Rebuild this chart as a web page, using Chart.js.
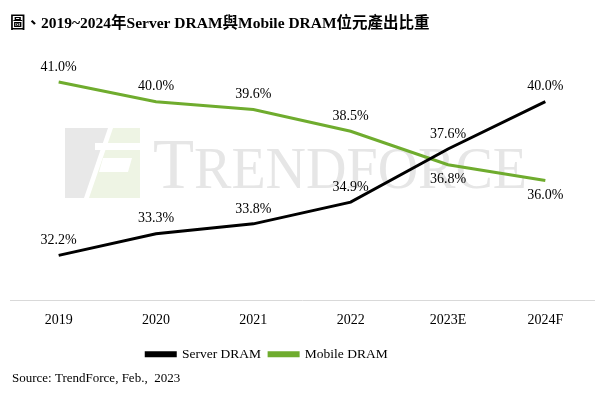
<!DOCTYPE html>
<html>
<head>
<meta charset="utf-8">
<script src="https://cdn.jsdelivr.net/npm/chart.js@4"></script>
<style>
  html, body { margin: 0; padding: 0; background: #fff; }
  #wrap { width: 600px; height: 399px; }
</style>
</head>
<body>
<div id="wrap"><canvas id="lineChart" width="600" height="399"></canvas></div>
<script>
var years = ["2019", "2020", "2021", "2022", "2023E", "2024F"];
var serverDram = [32.2, 33.3, 33.8, 34.9, 37.6, 40.0];
var mobileDram = [41.0, 40.0, 39.6, 38.5, 36.8, 36.0];
// which labels sit under the point instead of above it
var mobileBelow = [false, false, false, false, true, true];
var serverBelow = [false, false, false, false, false, false];

var serif = "'Liberation Serif', 'Times New Roman', 'Noto Sans CJK TC', serif";

// faint TrendForce mark behind the lines
var watermark = {
  id: 'watermark',
  beforeDatasetsDraw: function (chart) {
    var ctx = chart.ctx;
    ctx.save();
    // logo
    ctx.fillStyle = '#e8e8e8';
    ctx.beginPath();
    ctx.moveTo(65, 128); ctx.lineTo(108, 128); ctx.lineTo(84, 198); ctx.lineTo(65, 198);
    ctx.closePath(); ctx.fill();
    ctx.fillStyle = '#eef4e4';
    ctx.beginPath();
    ctx.moveTo(113, 128); ctx.lineTo(140, 128); ctx.lineTo(140, 198); ctx.lineTo(89, 198);
    ctx.closePath(); ctx.fill();
    ctx.fillStyle = '#fff';
    ctx.fillRect(95, 143, 46, 7);
    ctx.beginPath();
    ctx.moveTo(103, 158); ctx.lineTo(132, 158); ctx.lineTo(128, 172); ctx.lineTo(99, 172);
    ctx.closePath(); ctx.fill();
    // text
    ctx.fillStyle = '#e6e6e6';
    ctx.textBaseline = 'alphabetic';
    ctx.textAlign = 'left';
    ctx.font = '72px ' + serif;
    var wT = ctx.measureText('T').width;
    ctx.font = '60px ' + serif;
    var wRest = ctx.measureText('RENDFORCE').width;
    var sx = (527 - 153) / (wT + wRest);
    ctx.translate(153, 188);
    ctx.scale(sx, 1);
    ctx.font = '72px ' + serif;
    ctx.fillText('T', 0, 0);
    ctx.font = '60px ' + serif;
    ctx.fillText('RENDFORCE', wT, 0);
    ctx.restore();
  }
};

// value labels + source line
var valueLabels = {
  id: 'valueLabels',
  afterLayout: function (chart) {
    // legend sits a bit left of centre in the original
    chart.legend.left -= 35;
    chart.legend.right -= 35;
  },
  afterDatasetsDraw: function (chart) {
    var ctx = chart.ctx;
    ctx.save();
    ctx.font = '14px ' + serif;
    ctx.fillStyle = '#000';
    ctx.textAlign = 'center';
    ctx.textBaseline = 'middle';
    chart.data.datasets.forEach(function (ds, i) {
      var below = i === 0 ? serverBelow : mobileBelow;
      chart.getDatasetMeta(i).data.forEach(function (pt, j) {
        var y = below[j] ? pt.y + 15 : pt.y - 15;
        ctx.fillText(ds.data[j].toFixed(1) + '%', pt.x, y);
      });
    });
    ctx.textAlign = 'left';
    ctx.font = '13px ' + serif;
    ctx.fillText('Source: TrendForce, Feb.,  2023', 12, 379);
    ctx.restore();
  }
};

var ctxL = document.getElementById("lineChart").getContext('2d');
var myLineChart = new Chart(ctxL, {
  type: 'line',
  data: {
    labels: years,
    datasets: [{
        label: "Server DRAM",
        data: serverDram,
        borderColor: '#000000',
        backgroundColor: '#000000',
        borderWidth: 3,
        pointRadius: 0,
        tension: 0
      },
      {
        label: "Mobile DRAM",
        data: mobileDram,
        borderColor: '#6fac2e',
        backgroundColor: '#6fac2e',
        borderWidth: 3,
        pointRadius: 0,
        tension: 0
      }
    ]
  },
  options: {
    responsive: false,
    animation: false,
    layout: { padding: { top: 8, left: 10, right: 6, bottom: 28 } },
    plugins: {
      title: {
        display: true,
        align: 'start',
        text: '圖、2019~2024年Server DRAM與Mobile DRAM位元產出比重',
        color: '#000',
        font: { family: serif, size: 15.5, weight: 'bold' },
        padding: { top: 6.5, bottom: 9.5 }
      },
      legend: {
        position: 'bottom',
        labels: {
          color: '#000',
          font: { family: serif, size: 13.5 },
          boxWidth: 29,
          boxHeight: 3,
          padding: 8
        }
      },
      tooltip: { enabled: false }
    },
    scales: {
      x: {
        offset: true,
        grid: { display: false, drawTicks: false, offset: true },
        border: { display: true, color: '#d9d9d9', width: 1 },
        ticks: { color: '#000', font: { family: serif, size: 14 }, padding: 11 }
      },
      y: {
        display: false,
        min: 29.9,
        max: 43
      }
    }
  },
  plugins: [watermark, valueLabels]
});
</script>
</body>
</html>
